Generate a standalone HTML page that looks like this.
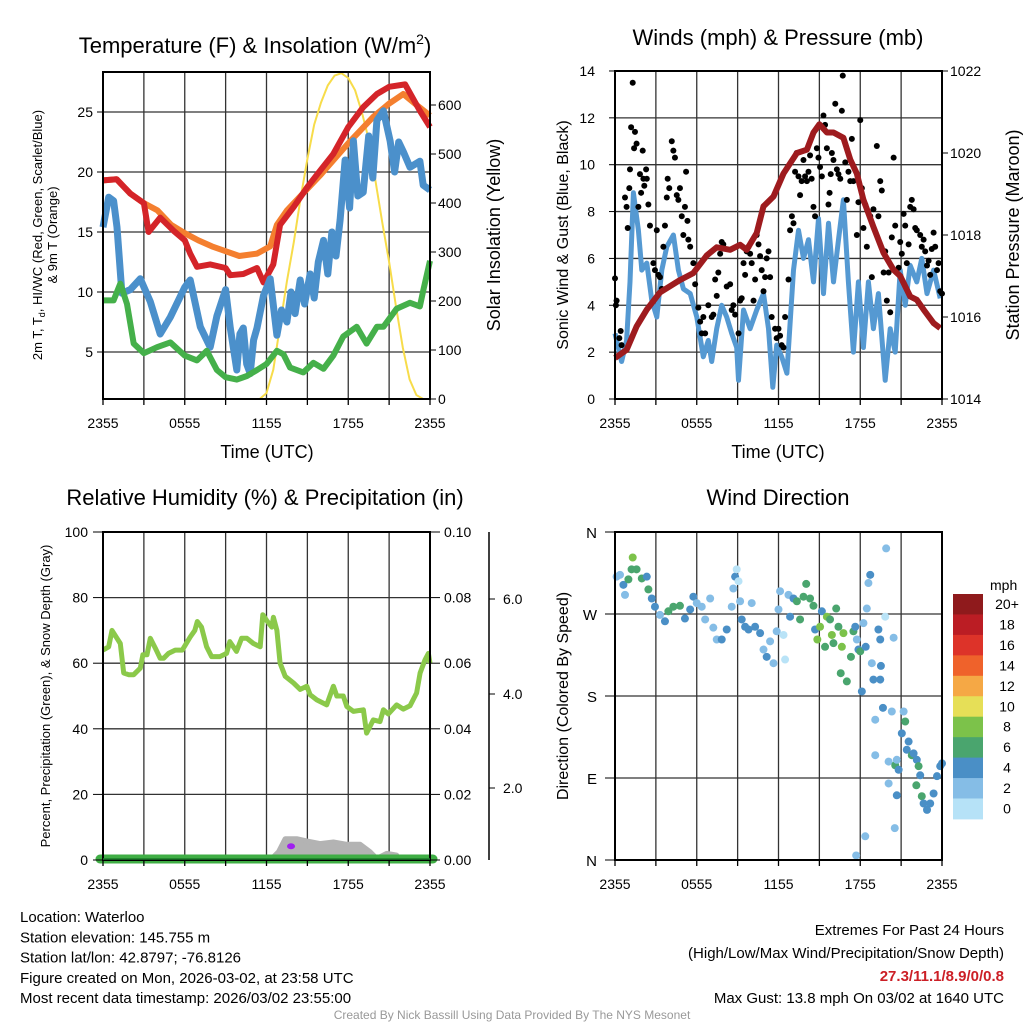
<!DOCTYPE html>
<html><head><meta charset="utf-8"><style>
body{margin:0;background:#fff;}
svg{display:block;font-family:"Liberation Sans",sans-serif;}
</style></head><body>
<svg id="s" width="1024" height="1024" xmlns="http://www.w3.org/2000/svg"></svg>
<script>
// ---------- Panel 1 data (hours) ----------
const tTimes=[0,1,2,3,3.35,4.2,5.18,6,6.4,6.9,7.87,9,9.34,10.3,11.3,11.78,12.5,13,14,15,15.93,16.9,18,19.1,20.1,21,22.17,23.26,24];
const tVals=[19.3,19.4,18.2,17.4,15,16.2,15.1,14.3,13.2,12.1,12.3,12,11.4,11.5,12,10.8,12.3,15.6,17.1,18.75,20.1,21.5,23.75,25.4,26.5,27.1,27.3,25.1,23.75];
const oTimes=[0,1,2,3,4,5,6,7,8,9,10,11.3,12.27,12.76,13.5,15,16,18,19.84,21,22.04,23,24];
const oVals=[19.3,19.4,18.2,17.4,16.8,15.6,14.9,14.3,13.8,13.4,13,13.2,13.8,15.6,16.8,18.6,19.8,22.4,24.6,25.7,26.5,25.6,24.7];
const bTimes=[0,0.42,0.78,1.03,1.39,2,2.74,3.47,4.2,4.94,6,6.4,7.14,7.87,8.36,9,9.34,9.82,10.05,10.3,10.55,10.8,11.05,11.3,11.78,12.27,12.76,13.1,13.5,13.8,14.1,14.47,14.8,15.2,15.5,15.8,16.18,16.5,16.8,17.1,17.4,17.77,18.1,18.38,18.7,19.1,19.5,19.8,20.1,20.58,21.07,21.4,21.7,22.04,22.53,23.26,23.5,24];
const bVals=[15.4,17.9,17.6,15.4,9.9,10.2,11.1,9.2,6.5,7.9,10.4,11,7.1,5.4,8,10.2,7,3.5,6.5,7,4,3.2,6,7,9.7,11.1,6.4,8.5,7.5,10,8.2,11,9,11.5,9.5,12.5,14.3,11.5,15,13,16,21,17,22.6,18,18.3,23,19.5,24.3,25.1,22.6,20,22.5,21.7,20.4,20.9,18.9,18.5];
const dTimes=[0,0.78,1.27,1.76,2.25,3,3.96,4.94,6,6.9,7.62,8.36,9,9.82,10.56,11.3,12,12.76,13.25,13.73,14.7,15.44,16.18,16.9,17.64,18.62,19.35,20.1,20.58,21.55,22.53,23.26,23.5,24];
const dVals=[9.3,9.3,10.7,9,5.7,4.9,5.4,5.8,4.7,4.3,5.1,3.5,2.9,2.7,3,3.5,4,5.1,4.8,3.7,3.3,4.1,3.6,4.7,6.3,7.1,5.7,7.1,7.1,8.6,9.1,8.8,10.1,12.6,12.9];
const sTimes=[0,11.5,12,12.5,13,13.5,14,14.5,15,15.5,16,16.5,17,17.5,18,18.5,19,19.5,20,20.5,21,21.5,22,22.5,23,23.5,24];
const sVals=[0,0,12,60,150,240,320,410,490,560,605,640,660,665,655,630,585,530,445,360,280,190,105,40,8,0,0];
// ---------- Panel 2 data (minutes) ----------
const wTimes=[0,29,51,66,81,103,118,140,162,184,206,228,257,279,301,331,360,389,411,426,448,470,492,514,536,544,566,595,624,654,676,695,712,734,757,786,808,830,852,874,896,918,940,962,984,1006,1028,1050,1072,1094,1116,1138,1160,1190,1212,1234,1256,1278,1300,1329,1351,1374,1403,1432];
const wVals=[2.8,1.6,2.5,5,8.8,7.2,5.5,5.8,4.2,3.5,5.5,6.5,7,5.5,4.7,4.5,3.5,1.8,2.5,1.6,3,4,3.5,2.8,2.2,0.8,3.8,3,3.8,4.5,3,0.5,2.3,1.8,1.1,5.5,7.2,6,6.8,5,7.7,4.5,7.5,5,6.8,8.5,5,2,5,2.2,5,3,4.5,0.8,3,2,5.5,4,5.7,5,6,4.5,5.5,4.3];
const gTimes=[0,4,7,19,25,29,44,51,56,63,66,71,78,84,88,95,103,110,115,122,125,129,137,140,147,154,169,176,184,191,198,206,213,220,228,232,239,250,257,264,272,279,286,294,301,308,313,319,323,331,345,353,367,375,382,389,397,411,426,433,441,448,455,463,470,477,492,507,514,521,529,544,551,558,566,573,580,588,595,602,610,617,624,632,639,646,654,661,668,676,683,690,705,712,720,727,734,742,749,764,771,779,786,793,800,808,815,822,830,837,845,852,859,866,874,881,889,896,903,911,918,925,933,940,945,950,955,962,970,977,984,992,999,1003,1014,1021,1028,1036,1043,1050,1065,1072,1080,1087,1094,1102,1109,1124,1131,1138,1153,1160,1168,1175,1183,1190,1197,1205,1212,1219,1227,1234,1249,1256,1263,1271,1278,1285,1293,1300,1307,1315,1322,1329,1344,1351,1359,1366,1374,1381,1388,1395,1403,1410,1418,1425,1432,1440];
const gVals=[5.15,4,4.2,2.6,2.9,2.3,8.6,8.2,7.3,9,9.8,11.6,13.5,10.7,11.4,10.9,8.2,9.6,8.8,10.6,9.4,9.1,9.8,9.4,8.3,7.4,5.8,5.5,7.2,5.3,5.2,4.7,6.5,7.4,8.6,9.4,9,11,10.6,10.3,8.7,8.5,9,7.8,7,8.2,9.7,7.6,6.8,6.5,5.8,4.9,3.9,3.3,2.8,3.5,2.8,4,3.5,3.6,5.1,4.4,5.4,6.2,6.7,6.6,4.8,4.9,3.8,4,3.6,2.8,4.2,4.3,5.8,5.3,6.3,6.5,6.2,5.8,4.2,5.1,7,6.6,6.1,5.5,4.6,5.2,6,6.3,5.2,3.5,3,2.6,3,2.7,2.3,2.2,3.5,5.1,7.2,7.8,7.5,9.7,10.5,9.5,8.7,9.3,10.2,9.5,9.3,9.7,10.4,9.4,8.2,7.8,10.7,10.3,9.9,9.5,12.1,11.7,10.7,8.3,8.8,9.6,10.5,10.2,12.6,9.8,9.6,9.4,12.3,13.8,10.1,8.5,9.7,9.3,11.1,9.3,7,8.4,11.9,9,7.3,8.3,6.5,7.8,5.2,8.1,10.8,7.8,9.3,8.9,5.4,6.3,4.2,5.4,3.7,6.9,10.3,7.4,5.6,6.7,6.2,7.9,7.4,5.8,6.6,8.2,8.5,8.1,7.3,7.2,7,6.5,6.8,6.3,5.7,5.9,5.3,6.4,7.1,6.5,5.5,5.8,4.6,4.5];
const pTimes=[0,51,95,140,198,286,345,404,448,507,551,580,624,654,698,742,801,845,874,900,933,962,1006,1036,1065,1094,1138,1183,1227,1256,1300,1329,1359,1403,1432];
const pVals=[1015.0,1015.2,1015.77,1016.18,1016.6,1016.9,1017.07,1017.5,1017.7,1017.64,1017.76,1017.64,1018.05,1018.7,1018.94,1019.5,1020.0,1020.08,1020.5,1020.7,1020.5,1020.5,1020.37,1019.84,1019.5,1018.86,1018.2,1017.56,1017.15,1017.0,1016.5,1016.42,1016.18,1015.85,1015.73];
// ---------- Panel 3 data (hours) ----------
const rhTimes=[0,0.42,0.66,1.03,1.27,1.52,1.88,2.25,2.74,2.93,3.23,3.47,3.84,4.2,4.45,4.81,5.3,5.82,6.4,6.74,6.92,7.23,7.6,7.97,8.58,9.07,9.31,9.8,10.17,10.56,11.04,11.54,11.73,12.02,12.39,12.51,12.76,13,13.37,13.98,14.47,14.96,15.2,15.69,16.42,16.91,17.16,17.64,17.89,18.38,19.11,19.35,19.84,20.33,20.58,20.94,21.55,22.04,22.53,23.02,23.27,23.63,23.88,24];
const rhVals=[64,65,70,67.6,66,57,56.5,56.5,58.5,62.6,62.6,67.6,64.6,61.5,61.5,63,64,64,68,70,72.7,71,65,62,62,63,66.6,63.6,67.6,67.6,66,65,74.8,73,71,74,70,60,56,54,52,53,50.4,48.8,47.3,53,50,50,46.8,45.3,45.8,38.7,42.7,42.2,45.8,44.5,47.3,46,47,50.9,57,61,63,60];
const snTimes=[0,12.27,12.88,13.37,14.22,14.96,15.93,16.91,17.89,18.87,19.6,20.09,20.82,21.55,21.8,24];
const snVals=[0,0,2.5,6.5,6.5,5.8,5,5.5,4.8,4.8,2.5,0.5,2,1.5,0,0];
// ---------- Panel 4 data (minutes, degrees, speed class) ----------
const dirTimes=[7,22,37,44,59,73,78,95,118,140,147,162,176,198,220,235,257,286,308,331,345,360,382,397,419,433,448,470,492,514,521,529,536,544,551,558,573,588,602,617,639,654,668,683,698,712,720,727,742,749,764,771,786,801,815,830,842,859,874,881,891,903,911,925,933,947,955,962,974,984,994,999,1006,1021,1039,1050,1058,1065,1072,1080,1087,1094,1104,1109,1116,1124,1131,1138,1146,1160,1168,1168,1171,1180,1190,1194,1205,1219,1227,1234,1241,1249,1263,1271,1278,1285,1293,1307,1315,1329,1337,1344,1327,1351,1359,1374,1388,1403,1418,1432,1440,1146,1102,1062,1232,1205,1241];
const dirVals=[311,313,302,291,308,319,332,319,309,311,297,287,278,269,262,273,278,279,265,275,289,282,278,264,287,255,242,242,253,278,298,311,319,306,284,264,256,253,282,256,249,231,223,240,216,251,275,295,247,220,291,267,287,284,264,289,303,287,279,253,242,256,273,234,267,264,247,238,276,256,205,234,249,196,223,251,256,242,231,229,185,260,234,276,304,313,216,198,154,253,242,198,213,167,267,342,108,163,244,104,71,99,139,163,152,121,130,115,117,110,103,93,82,70,62,55,62,73,92,103,106,115,26,5,35,84,110];
const dirSpd=[1,1,2,1,3,3,4,3,3,2,3,2,2,1,2,3,3,3,2,2,2,1,1,1,1,1,1,2,2,1,1,2,0,0,1,2,2,2,1,2,2,1,2,1,1,1,1,1,0,0,1,2,2,3,3,3,3,3,3,2,4,4,2,3,4,3,4,3,3,3,3,4,4,3,3,3,2,1,2,3,2,1,2,1,1,2,1,2,1,2,2,2,2,2,0,1,1,1,1,3,2,2,2,1,3,2,2,3,2,2,3,2,3,3,2,2,2,2,2,2,2,1,1,1,1,1,1];
const spdColors=["#b9e3f7","#85bde6","#4a8fc6","#4aa56e","#7cc24a"];
const legendLabels=["20+","18","16","14","12","10","8","6","4","2","0"];
const legendColors=["#8f1a1c","#bb1d24","#dd3329","#ef622b","#f5a845","#e6df57","#7cc24a","#4aa56e","#4a8fc6","#85bde6","#b6e2f7"];
const xTickLabels=["2355","0555","1155","1755","2355"];

const NS="http://www.w3.org/2000/svg";
const svg=document.getElementById('s');
function el(tag,attrs,parent){const e=document.createElementNS(NS,tag);for(const k in attrs)e.setAttribute(k,attrs[k]);(parent||svg).appendChild(e);return e;}
function txt(s,x,y,size,anchor,extra,parent){const t=el('text',Object.assign({x:x,y:y,'font-size':size,'text-anchor':anchor||'middle',fill:'#000'},extra||{}),parent);t.textContent=s;return t;}

function frame(L,R,T,B,name){
  const g=el('g',{});
  
  
  for(let k=1;k<8;k++){const x=L+(R-L)*k/8;el('line',{x1:x,y1:T,x2:x,y2:B,stroke:'#333','stroke-width':1.3},g);}
  return g;
}
function hgrid(g,L,R,ys){ys.forEach(y=>el('line',{x1:L,y1:y,x2:R,y2:y,stroke:'#333','stroke-width':1.3},g));}
function border(L,R,T,B){el('rect',{x:L,y:T,width:R-L,height:B-T,fill:'none',stroke:'#000','stroke-width':2});}
function xticks(L,R,B){
  const g=el('g',{});
  
  
  for(let k=0;k<=8;k++){const x=L+(R-L)*k/8;el('line',{x1:x,y1:B,x2:x,y2:B+6,stroke:'#000','stroke-width':1.3},g);}
  xTickLabels.forEach((s,i)=>txt(s,L+(R-L)*i/4,B+29,14,'middle',{},g));
}
function pathFrom(xs,ys,fx,fy){return xs.map((t,i)=>(i?'L':'M')+fx(t).toFixed(1)+','+fy(ys[i]).toFixed(1)).join('');}

// ===== Panel 1 =====
{const L=103,R=430,T=72,B=399;
 const fx=h=>L+h/24*(R-L), fy=v=>412-v*12, fs=s=>399-s*0.49;
 const g=frame(L,R,T,B,'temperature-panel');hgrid(g,L,R,[5,10,15,20,25].map(fy));
 const ys=el('path',{d:pathFrom(sTimes,sVals,fx,fs),fill:'none',stroke:'#f7dc4a','stroke-width':2});
 
 const lo=el('path',{d:pathFrom(oTimes,oVals,fx,fy),fill:'none',stroke:'#f47f2f','stroke-width':6,'stroke-linejoin':'round'});
 
 const lr=el('path',{d:pathFrom(tTimes,tVals,fx,fy),fill:'none',stroke:'#d42429','stroke-width':6,'stroke-linejoin':'round'});
 
 const lb=el('path',{d:pathFrom(bTimes,bVals,fx,fy),fill:'none',stroke:'#4b90cb','stroke-width':7,'stroke-linejoin':'round'});
 
 const lg=el('path',{d:pathFrom(dTimes,dVals,fx,fy),fill:'none',stroke:'#45b04a','stroke-width':6,'stroke-linejoin':'round'});
 
 border(L,R,T,B);
 [5,10,15,20,25].forEach(v=>{el('line',{x1:L-6,y1:fy(v),x2:L,y2:fy(v),stroke:'#000'});txt(String(v),L-10,fy(v)+5,14,'end');});
 [0,100,200,300,400,500,600].forEach(v=>{el('line',{x1:R,y1:fs(v),x2:R+6,y2:fs(v),stroke:'#000'});txt(String(v),R+8,fs(v)+5,14,'start');});
 xticks(L,R,B);
 const t=txt('Temperature (F) & Insolation (W/m',255,53,22,'middle');
 const ts=el('tspan',{'font-size':14,dy:-9},t);ts.textContent='2';const ts2=el('tspan',{'font-size':22,dy:9},t);ts2.textContent=')';
 const xl=txt('Time (UTC)',267,458,18);
 const yl=txt('2m T, T',0,0,13,'middle',{transform:'translate(42,235) rotate(-90)'});
 const sub=el('tspan',{'font-size':9,dy:3},yl);sub.textContent='d';const r=el('tspan',{dy:-3},yl);r.textContent=', HI/WC (Red, Green, Scarlet/Blue)';
 
 const yl2=txt('& 9m T (Orange)',0,0,13,'middle',{transform:'translate(57,235) rotate(-90)'});
 
 const yr=txt('Solar Insolation (Yellow)',0,0,18,'middle',{transform:'translate(500,235) rotate(-90)'});
 
}
// ===== Panel 2 =====
{const L=615,R=942,T=71,B=399;
 const fx=m=>L+m/1440*(R-L), fy=v=>399-v*23.43, fp=p=>399-(p-1014)*41;
 const g=frame(L,R,T,B,'winds-panel');hgrid(g,L,R,[2,4,6,8,10,12].map(fy));
 const lw=el('path',{d:pathFrom(wTimes,wVals,fx,fy),fill:'none',stroke:'#5599d2','stroke-width':5,'stroke-linejoin':'round'});
 
 gTimes.forEach((m,i)=>{const c=el('circle',{cx:fx(m),cy:fy(gVals[i]),r:3,fill:'#000'});
  
  });
 const lp=el('path',{d:pathFrom(pTimes,pVals,fx,fp),fill:'none',stroke:'#9e1b1e','stroke-width':6,'stroke-linejoin':'round'});
 
 border(L,R,T,B);
 [0,2,4,6,8,10,12,14].forEach(v=>{el('line',{x1:L-6,y1:fy(v),x2:L,y2:fy(v),stroke:'#000'});txt(String(v),L-20,fy(v)+5,14,'end');});
 [1014,1016,1018,1020,1022].forEach(v=>{el('line',{x1:R,y1:fp(v),x2:R+6,y2:fp(v),stroke:'#000'});txt(String(v),R+8,fp(v)+5,14,'start');});
 xticks(L,R,B);
 const t=txt('Winds (mph) & Pressure (mb)',778,45,22);
 const xl=txt('Time (UTC)',778,458,18);
 const yl=txt('Sonic Wind & Gust (Blue, Black)',0,0,16,'middle',{transform:'translate(568,235) rotate(-90)'});
 const yr=txt('Station Pressure (Maroon)',0,0,18,'middle',{transform:'translate(1019,235) rotate(-90)'});
}
// ===== Panel 3 =====
{const L=103,R=430,T=532,B=860;
 const fx=h=>L+h/24*(R-L), fy=v=>860-v*3.28;
 const g=frame(L,R,T,B,'humidity-panel');hgrid(g,L,R,[20,40,60,80].map(fy));
 const sn=el('path',{d:pathFrom(snTimes,snVals,fx,fy)+'Z',fill:'#b3b3b3',stroke:'#b3b3b3','stroke-width':5,'stroke-linejoin':'round'});
 
 const pd=el('ellipse',{cx:fx(13.8),cy:fy(4.2),rx:4,ry:3,fill:'#a020f0'});
 const pl=el('line',{x1:L-3,y1:B-1,x2:R+3,y2:B-1,stroke:'#3fae45','stroke-width':9,'stroke-linecap':'round'});
 const rh=el('path',{d:pathFrom(rhTimes,rhVals,fx,fy),fill:'none',stroke:'#8bc94a','stroke-width':5,'stroke-linejoin':'round'});
 
 border(L,R,T,B);
 el('line',{x1:L,y1:B-1,x2:R,y2:B-1,stroke:'#1a7a2a','stroke-width':1.5});
 [0,20,40,60,80,100].forEach(v=>{el('line',{x1:L-10,y1:fy(v),x2:L,y2:fy(v),stroke:'#000'});txt(String(v),L-15,fy(v)+5,14,'end');});
 ['0.00','0.02','0.04','0.06','0.08','0.10'].forEach((s,i)=>{const y=fy(i*20);el('line',{x1:R,y1:y,x2:R+10,y2:y,stroke:'#000'});txt(s,R+14,y+5,14,'start');});
 el('line',{x1:489,y1:532,x2:489,y2:860,stroke:'#000','stroke-width':1.5});
 [['2.0',788],['4.0',694],['6.0',599]].forEach(a=>{el('line',{x1:489,y1:a[1],x2:495,y2:a[1],stroke:'#000'});txt(a[0],503,a[1]+5,14,'start');});
 xticks(L,R,B);
 const t=txt('Relative Humidity (%) & Precipitation (in)',265,505,22);
 const yl=txt('Percent, Precipitation (Green), & Snow Depth (Gray)',0,0,13,'middle',{transform:'translate(50,696) rotate(-90)'});
}
// ===== Panel 4 =====
{const L=615,R=942,T=532,B=860;
 const fx=m=>L+m/1440*(R-L), fy=d=>860-d*328/360;
 const g=frame(L,R,T,B,'wind-direction-panel');hgrid(g,L,R,[90,180,270].map(fy));
 dirTimes.forEach((m,i)=>{const c=el('circle',{cx:fx(m),cy:fy(dirVals[i]),r:4,fill:spdColors[dirSpd[i]]});
  
  });
 border(L,R,T,B);
 [['N',0],['E',90],['S',180],['W',270],['N',360]].forEach(a=>{el('line',{x1:L-10,y1:fy(a[1]),x2:L,y2:fy(a[1]),stroke:'#000'});txt(a[0],L-18,fy(a[1])+6,15,'end');});
 xticks(L,R,B);
 const t=txt('Wind Direction',778,505,22);
 const yl=txt('Direction (Colored By Speed)',0,0,16,'middle',{transform:'translate(568,696) rotate(-90)'});
 const lg=el('g',{});
 txt('mph',990,590,14,'start',{},lg);
 legendLabels.forEach((s,i)=>{const y=594+i*20.45;el('rect',{x:953,y:y,width:30,height:20.9,fill:legendColors[i]},lg);txt(s,1007,y+15,14,'middle',{},lg);});
}
// ===== Footer text =====
{const info=el('g',{});
 ['Location: Waterloo','Station elevation: 145.755 m','Station lat/lon: 42.8797; -76.8126','Figure created on Mon, 2026-03-02, at 23:58 UTC','Most recent data timestamp: 2026/03/02 23:55:00'].forEach((s,i)=>txt(s,20,922+i*20.3,15,'start',{},info));
 const ex=el('g',{});
 txt('Extremes For Past 24 Hours',1004,935,15,'end',{},ex);
 txt('(High/Low/Max Wind/Precipitation/Snow Depth)',1004,958,15,'end',{},ex);
 txt('27.3/11.1/8.9/0/0.8',1004,981,15,'end',{fill:'#cc1f26','font-weight':'bold'},ex);
 txt('Max Gust: 13.8 mph On 03/02 at 1640 UTC',1004,1003,15,'end',{},ex);
 const cr=txt('Created By Nick Bassill Using Data Provided By The NYS Mesonet',512,1019,12,'middle',{fill:'#999'});
}
</script>
</body></html>
